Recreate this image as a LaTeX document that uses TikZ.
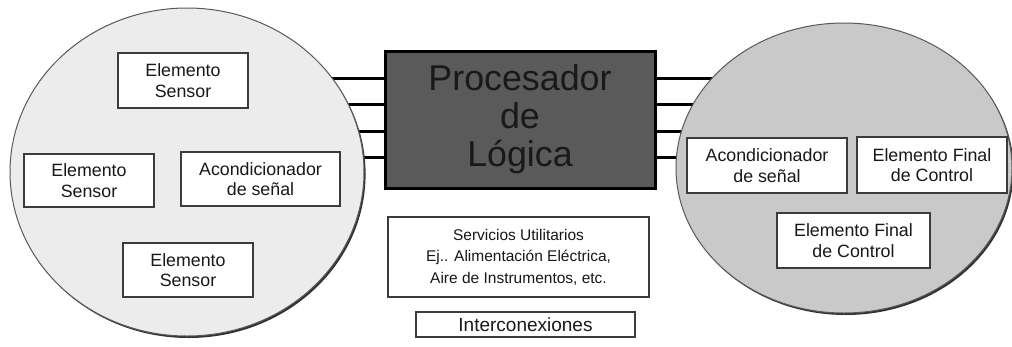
\documentclass[tikz,border=0pt]{standalone}
\usepackage{fontspec}
\setmainfont{Liberation Sans}
\usetikzlibrary{shapes.geometric,shadows}
\pgfdeclarelayer{background}
\pgfsetlayers{background,main}
\definecolor{txt}{HTML}{181818}
\definecolor{boxline}{HTML}{3C3C3C}
\definecolor{leftfill}{HTML}{ECECEC}
\definecolor{rightfill}{HTML}{C9C9C9}
\definecolor{procfill}{HTML}{5A5A5A}
\tikzset{
  zone/.style={ellipse, inner sep=0pt, draw=black!65, line width=1pt,
    drop shadow={shadow xshift=1.6pt, shadow yshift=-2pt, fill=black!80, opacity=1}},
  unit/.style={draw=boxline, line width=1.3pt, fill=white, inner sep=0pt,
    align=center, text=txt, font=\fontsize{17.8}{20.5}\selectfont},
  proc/.style={draw=black, line width=3pt, fill=procfill, inner sep=0pt,
    align=center, text=black!90, font=\fontsize{35.8}{38}\selectfont},
  wire/.style={draw=black, line width=3pt}
}
\begin{document}
\begin{tikzpicture}[x=1pt,y=-1pt]
\useasboundingbox (0,0) rectangle (1012,346);

% field zones
\node[zone, fill=leftfill, minimum width=354pt, minimum height=328pt] (lzone) at (187,172) {};
\node[zone, fill=rightfill, minimum width=336pt, minimum height=290pt] (rzone) at (844,168) {};

% sensing side
\node[unit, minimum width=130pt, minimum height=55pt] (s1) at (183,80.5) {Elemento\\Sensor};
\node[unit, minimum width=130pt, minimum height=53pt] (s2) at (89,180.5) {Elemento\\Sensor};
\node[unit, minimum width=159pt, minimum height=54pt] (ac1) at (260.5,179) {Acondicionador\\de señal};
\node[unit, minimum width=130pt, minimum height=54pt] (s3) at (188,270) {Elemento\\Sensor};

% logic solver
\node[proc, minimum width=270pt, minimum height=137pt] (cpu) at (520,119.5) {Procesador\\de\\Lógica};

% final elements side
\node[unit, minimum width=160pt, minimum height=55pt] (ac2) at (767,165.5) {Acondicionador\\de señal};
\node[unit, minimum width=150pt, minimum height=56pt] (ef1) at (932,165) {Elemento Final\\de Control};
\node[unit, minimum width=153pt, minimum height=55pt] (ef2) at (853.5,240.5) {Elemento Final\\de Control};

% support items
\node[unit, minimum width=261pt, minimum height=80pt, font=\fontsize{15.5}{21.5}\selectfont] (serv) at (518.5,257)
  {Servicios Utilitarios\\Ej.. Alimentación Eléctrica,\\Aire de Instrumentos, etc.};
\node[unit, minimum width=219pt, minimum height=25pt, font=\fontsize{19}{20}\selectfont] (inter) at (525.5,324.5) {Interconexiones};

% buses between the zones and the solver
\begin{pgfonlayer}{background}
  \foreach \yy in {78,104.5,131,157}{
    \draw[wire] (cpu.west |- 0,\yy) -- (lzone.center |- 0,\yy);
    \draw[wire] (cpu.east |- 0,\yy) -- (rzone.center |- 0,\yy);
  }
\end{pgfonlayer}
\end{tikzpicture}
\end{document}
